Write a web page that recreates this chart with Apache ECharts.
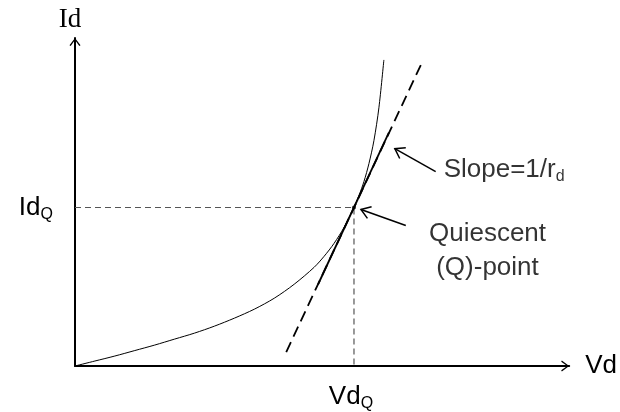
<!DOCTYPE html>
<html><head><meta charset="utf-8">
<script src="https://cdn.jsdelivr.net/npm/echarts@6/dist/echarts.min.js"></script>
<style>html,body{margin:0;padding:0;background:#fff}#c{width:620px;height:412px}</style>
</head><body><div id="c"></div>
<script>
// ---- data (diagram units) ----
const curveX = [0,20,40,60,80,100,120,140,160,180,200,220,240,250,260,270,280,285,290,295,300,305,310];
const curveY = [0,5,10,15.5,21,27,33,40,48,57,68,82,99,110,123,139,159,171,185,203,226,259,307];
const tangentX = [212, 349];
const tangentY = [14, 306];
const tangentSolidX = [244, 315];
const tangentSolidY = [82, 234];
const qX = 280, qY = 159;
const axisNames = ['Vd', 'Id'];
const tickLabelX = ['Vd', 'Q'];
const tickLabelY = ['Id', 'Q'];
const noteSlope = ['Slope=1/r', 'd'];
const noteQ = ['Quiescent', '(Q)-point'];
// arrows: [tailX, tailY, tipX, tipY]
const arrowSlope = [362, 195, 321, 218];
const arrowQ = [332, 141, 287, 157];

// ---- layout / style ----
const SANS = '"Liberation Sans", Arial, sans-serif';
const SERIF = '"Liberation Serif", "Times New Roman", serif';
const rich = {
  n: {fontFamily: SANS, fontSize: 26, color: '#000', lineHeight: 30},
  s: {fontFamily: SANS, fontSize: 16, color: '#000', lineHeight: 16, verticalAlign: 'bottom'}
};
const CHEV = 'path://M0,8 L6,0 L12,8 L10.7,8.7 L6,2.2 L1.3,8.7 Z';

const chart = echarts.init(document.getElementById('c'), null, {renderer: 'canvas'});
const zip = (a, b) => a.map((v, i) => [v, b[i]]);

function arrowItem(params, api) {
  const p1 = api.coord([api.value(0), api.value(1)]);
  const p2 = api.coord([api.value(2), api.value(3)]);
  const ang = Math.atan2(p2[1] - p1[1], p2[0] - p1[0]);
  const L = 11, a = 0.6;
  const h1 = [p2[0] - L * Math.cos(ang - a), p2[1] - L * Math.sin(ang - a)];
  const h2 = [p2[0] - L * Math.cos(ang + a), p2[1] - L * Math.sin(ang + a)];
  return {type: 'group', children: [
    {type: 'line', shape: {x1: p1[0], y1: p1[1], x2: p2[0], y2: p2[1]}, style: {stroke: '#000', lineWidth: 1.5}},
    {type: 'polyline', shape: {points: [h1, p2, h2]}, style: {stroke: '#000', lineWidth: 1.5, fill: null}}
  ]};
}

chart.setOption({
  animation: false,
  backgroundColor: '#fff',
  grid: {left: 75, top: 38, width: 496, height: 329},
  xAxis: {
    type: 'value', min: 0, max: 496,
    name: axisNames[0], nameLocation: 'end', nameGap: 16,
    nameTextStyle: {fontFamily: SANS, fontSize: 26, color: '#000'},
    axisLine: {show: true, onZero: false, lineStyle: {color: '#000', width: 2},
      symbol: ['none', CHEV], symbolSize: [13, 8], symbolOffset: [0, -4]},
    axisTick: {show: false}, splitLine: {show: false},
    axisLabel: {show: true, customValues: [qX], margin: 16, color: '#000',
      padding: [0, 6, 0, 0],
      formatter: () => '{n|' + tickLabelX[0] + '}{s|' + tickLabelX[1] + '}', rich: rich}
  },
  yAxis: {
    type: 'value', min: 0, max: 329,
    name: axisNames[1], nameLocation: 'end', nameGap: 5,
    nameTextStyle: {fontFamily: SERIF, fontSize: 27, color: '#000', padding: [0, 10, 0, 0]},
    axisLine: {show: true, onZero: false, lineStyle: {color: '#000', width: 2},
      symbol: ['none', CHEV], symbolSize: [13, 8], symbolOffset: [0, -4]},
    axisTick: {show: false}, splitLine: {show: false},
    axisLabel: {show: true, customValues: [qY], margin: 22, color: '#000',
      formatter: () => '{n|' + tickLabelY[0] + '}{s|' + tickLabelY[1] + '}', rich: rich}
  },
  series: [
    {type: 'line', data: [[0, qY], [qX, qY], [qX, 0]], symbol: 'none', silent: true,
      lineStyle: {color: '#555', width: 1.2, type: [6, 4]}},
    {type: 'line', data: zip(curveX, curveY), symbol: 'none', smooth: 0.3, silent: true,
      lineStyle: {color: '#000', width: 1}},
    {type: 'line', data: zip(tangentX, tangentY), symbol: 'none', silent: true,
      lineStyle: {color: '#000', width: 1.8, type: [11, 6]}},
    {type: 'line', data: zip(tangentSolidX, tangentSolidY), symbol: 'none', silent: true,
      lineStyle: {color: '#000', width: 1.8}},
    {type: 'scatter', data: [[qX, qY]], symbolSize: 4, itemStyle: {color: '#000'}, z: 5},
    {type: 'custom', renderItem: arrowItem, data: [arrowSlope, arrowQ], z: 4},
    {type: 'scatter', symbolSize: 0, silent: true,
      data: [
        {value: [370, 197], label: {show: true, position: 'right', distance: 0, color: '#000',
          formatter: '{n|' + noteSlope[0] + '}{s|' + noteSlope[1] + '}', rich: rich}},
        {value: [414, 116], label: {show: true, position: 'inside', align: 'center', color: '#000',
          formatter: '{n|' + noteQ[0] + '}\n{n|' + noteQ[1] + '}', rich: {n: Object.assign({}, rich.n, {lineHeight: 34})}}}
      ]}
  ]
});
</script></body></html>
